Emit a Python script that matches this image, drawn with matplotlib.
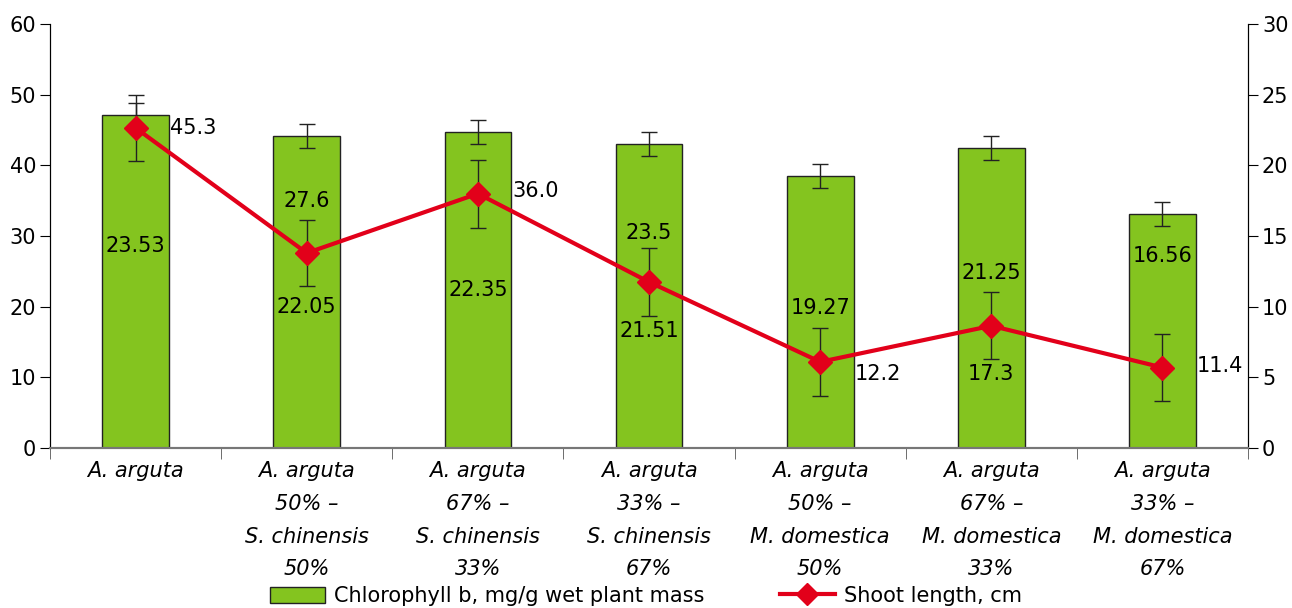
import matplotlib.pyplot as plt
import numpy as np
from matplotlib.patches import Patch
from matplotlib.lines import Line2D

# data
categories = ["A. arguta",
              "A. arguta\n50% \u2013\nS. chinensis\n50%",
              "A. arguta\n67% \u2013\nS. chinensis\n33%",
              "A. arguta\n33% \u2013\nS. chinensis\n67%",
              "A. arguta\n50% \u2013\nM. domestica\n50%",
              "A. arguta\n67% \u2013\nM. domestica\n33%",
              "A. arguta\n33% \u2013\nM. domestica\n67%"]
chlorophyll_b = [23.53, 22.05, 22.35, 21.51, 19.27, 21.25, 16.56]
chlorophyll_err = [0.85, 0.85, 0.85, 0.85, 0.85, 0.85, 0.85]
shoot_length = [45.3, 27.6, 36.0, 23.5, 12.2, 17.3, 11.4]
shoot_err = [4.7, 4.7, 4.8, 4.8, 4.8, 4.75, 4.75]

# label placement (style only)
bar_label_y = [14.3, 10.0, 11.2, 8.3, 9.9, 12.4, 13.6]   # right-axis units
line_label_right = [True, False, True, False, True, False, True]
line_label_dy = [0.0, 7.3, 0.4, 7.0, -1.7, -6.8, 0.2]

plt.rcParams['font.family'] = ['DejaVu Sans']
green = '#84C41F'
red = '#E2001A'

fig = plt.figure(figsize=(12.92, 6.08), dpi=100)
ax = fig.add_axes([0.0387, 0.263, 0.9273, 0.6975])
ax2 = ax.twinx()
ax.set_zorder(ax2.get_zorder() + 1)
ax.patch.set_visible(False)

x = np.arange(len(categories))

# bars on right axis
ax2.bar(x, chlorophyll_b, width=0.39, color=green, edgecolor='#222222',
        linewidth=1.0, zorder=2)
ax2.errorbar(x, chlorophyll_b, yerr=chlorophyll_err, fmt='none', ecolor='#222222',
             elinewidth=1.0, capsize=6, capthick=1.0, zorder=3)
for i, v in enumerate(chlorophyll_b):
    ax2.text(x[i], bar_label_y[i], f"{v:.2f}", ha='center', va='center',
             fontsize=15, color='black', zorder=4)

# line on left axis
ax.errorbar(x, shoot_length, yerr=shoot_err, fmt='none', ecolor='#222222',
            elinewidth=1.0, capsize=6, capthick=1.0, zorder=3)
ax.plot(x, shoot_length, color=red, linewidth=3, marker='D', markersize=12,
        zorder=4)
for i, v in enumerate(shoot_length):
    if line_label_right[i]:
        ax.text(x[i] + 0.2, v + line_label_dy[i], f"{v:.1f}", ha='left',
                va='center', fontsize=15, zorder=5)
    else:
        ax.text(x[i], v + line_label_dy[i], f"{v:.1f}", ha='center',
                va='center', fontsize=15, zorder=5)

ax.set_xlim(-0.5, len(categories) - 0.5)
ax.set_ylim(0, 60)
ax2.set_ylim(0, 30)
ax.set_yticks(np.arange(0, 61, 10))
ax2.set_yticks(np.arange(0, 31, 5))

ax.set_xticks(x)
ax.set_xticklabels(categories, style='italic', fontsize=15, linespacing=1.81)
ax.tick_params(axis='x', length=0, pad=9)
ax.set_xticks(np.arange(-0.5, len(categories)), minor=True)
ax.tick_params(axis='x', which='minor', length=8, direction='out', color='#555555')
ax.tick_params(axis='y', labelsize=15, length=7, direction='out', pad=3)
ax2.tick_params(axis='y', labelsize=15, length=7, direction='out', pad=3)

for a in (ax, ax2):
    a.spines['top'].set_visible(False)
    a.spines['bottom'].set_color('#777777')
    a.spines['bottom'].set_linewidth(1.5)

# legend
handles = [Patch(facecolor=green, edgecolor='#222222', label='Chlorophyll b, mg/g wet plant mass'),
           Line2D([0], [0], color=red, linewidth=3, marker='D', markersize=11,
                  label='Shoot length, cm')]
fig.legend(handles=handles, loc='center', bbox_to_anchor=(0.5, 0.02), ncol=2,
           frameon=False, fontsize=15, handlelength=2.65, handleheight=0.8,
           columnspacing=3.6, handletextpad=0.45)

fig.savefig('out.png', dpi=100)
